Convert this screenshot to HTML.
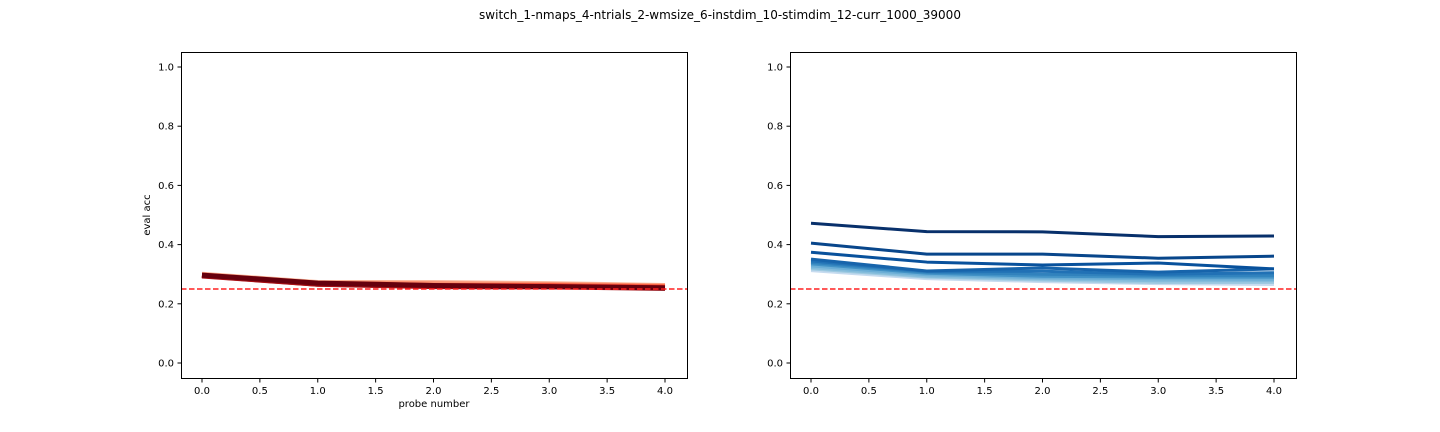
<!DOCTYPE html>
<html><head><meta charset="utf-8"><style>
html,body{margin:0;padding:0;background:#fff;}
svg{display:block;font-family:"DejaVu Sans","Liberation Sans",sans-serif;}
</style></head><body>
<svg id="fig" width="1440" height="432" viewBox="0 0 1440 432">
<text x="720" y="19" text-anchor="middle" font-size="12">switch_1-nmaps_4-ntrials_2-wmsize_6-instdim_10-stimdim_12-curr_1000_39000</text>
</svg>
<script>
const probes = [0, 1, 2, 3, 4];
const xTicks = [0.0, 0.5, 1.0, 1.5, 2.0, 2.5, 3.0, 3.5, 4.0];
const yTicks = [0.0, 0.2, 0.4, 0.6, 0.8, 1.0];
const chanceLevel = 0.25;
const leftSeries = [
  [0.300, 0.272, 0.272, 0.268, 0.262],
  [0.298, 0.270, 0.268, 0.265, 0.260],
  [0.297, 0.268, 0.262, 0.262, 0.258],
  [0.296, 0.267, 0.262, 0.260, 0.255],
  [0.295, 0.266, 0.260, 0.258, 0.254],
  [0.294, 0.266, 0.258, 0.257, 0.252],
  [0.297, 0.270, 0.262, 0.258, 0.254]
];
const leftColors = ["#fcbba1","#fc9272","#fb6a4a","#ef3b2c","#cb181d","#a50f15","#67000d"];
const rightSeries = [
  [0.312, 0.285, 0.275, 0.268, 0.265],
  [0.318, 0.290, 0.280, 0.272, 0.272],
  [0.322, 0.293, 0.284, 0.278, 0.278],
  [0.328, 0.298, 0.288, 0.284, 0.283],
  [0.335, 0.303, 0.293, 0.290, 0.290],
  [0.340, 0.307, 0.300, 0.296, 0.296],
  [0.345, 0.310, 0.310, 0.300, 0.305],
  [0.351, 0.311, 0.321, 0.307, 0.318],
  [0.374, 0.341, 0.331, 0.338, 0.318],
  [0.405, 0.368, 0.368, 0.354, 0.361],
  [0.472, 0.444, 0.443, 0.427, 0.429]
];
const rightColors = ["#c6dbef","#9ecae1","#84bcdb","#6baed6","#4292c6","#3182bd","#2171b5","#1764ab","#08519c","#08468b","#08306b"];

const NS = "http://www.w3.org/2000/svg";
const svg = document.getElementById("fig");
function mk(tag, attrs, parent) {
  const e = document.createElementNS(NS, tag);
  for (const k in attrs) e.setAttribute(k, attrs[k]);
  (parent || svg).appendChild(e);
  return e;
}
function panel(left, series, colors, lw, name, showLabels) {
  const top = 52, bottom = 378, right = left + 506;
  const xs = v => left + 21 + v * 115.75;
  const ys = v => 363 - v * 296;
  const g = mk("g", {});
  
  
  series.forEach((s, i) => {
    const p = mk("polyline", {points: s.map((v, j) => xs(probes[j]) + "," + ys(v)).join(" "), fill: "none", stroke: colors[i], "stroke-width": lw, "stroke-linejoin": "round"}, g);
    
    
  });
  const ch = mk("line", {x1: left, x2: right, y1: ys(chanceLevel), y2: ys(chanceLevel), stroke: "#ff2020", "stroke-width": 1.5, "stroke-dasharray": "5.5,2.5"}, g);
  
  
  const fr = mk("rect", {x: left + 0.5, y: top + 0.5, width: 506, height: 326, fill: "none", stroke: "#000", "stroke-width": 1}, g);
  
  
  xTicks.forEach(t => {
    const x = xs(t);
    mk("line", {x1: x, x2: x, y1: bottom + 1, y2: bottom + 4.5, stroke: "#000"}, g);
    const tx = mk("text", {x: x, y: bottom + 16, "text-anchor": "middle", "font-size": 10}, g);
    tx.textContent = t.toFixed(1);
    
    
  });
  yTicks.forEach(t => {
    const y = ys(t);
    mk("line", {x1: left, x2: left - 3.5, y1: y, y2: y, stroke: "#000"}, g);
    const tx = mk("text", {x: left - 7, y: y + 3.5, "text-anchor": "end", "font-size": 10}, g);
    tx.textContent = t.toFixed(1);
    
    
  });
  if (showLabels) {
    const xl = mk("text", {x: left + 253, y: 407, "text-anchor": "middle", "font-size": 10}, g);
    xl.textContent = "probe number";
    
    
    const yl = mk("text", {x: 0, y: 0, "text-anchor": "middle", "font-size": 10, transform: "translate(150,215) rotate(-90)"}, g);
    yl.textContent = "eval acc";
    
    
  }
}
panel(181, leftSeries, leftColors, 5, "left-panel", true);
panel(790, rightSeries, rightColors, 3, "right-panel", false);
</script>
</body></html>
